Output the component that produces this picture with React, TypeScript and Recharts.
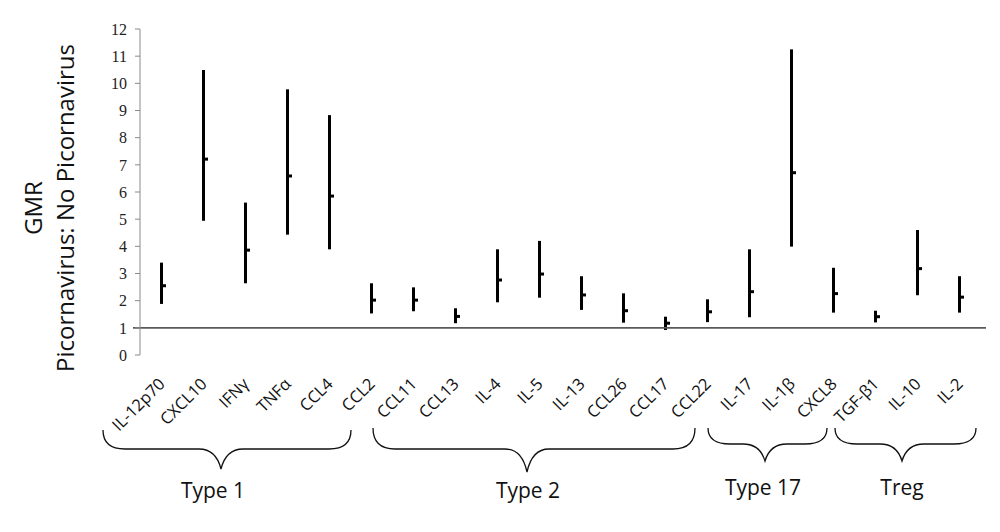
import { Bar, ComposedChart, ReferenceLine, Scatter, XAxis, YAxis } from "recharts";

// cytokines, in plotted order
const cytokines = [
  "IL-12p70", "CXCL10", "IFNγ", "TNFα", "CCL4",
  "CCL2", "CCL11", "CCL13", "IL-4", "IL-5", "IL-13", "CCL26", "CCL17", "CCL22",
  "IL-17", "IL-1β", "CXCL8",
  "TGF-β1", "IL-10", "IL-2",
];
// geometric mean ratio and its confidence interval
const gmr = [2.55, 7.21, 3.86, 6.59, 5.85, 2.02, 2.02, 1.42, 2.76, 2.98, 2.21, 1.63, 1.17, 1.59, 2.33, 6.71, 2.26, 1.41, 3.18, 2.13];
const ciLow = [1.88, 4.94, 2.64, 4.43, 3.89, 1.53, 1.61, 1.17, 1.94, 2.11, 1.66, 1.19, 0.92, 1.21, 1.39, 3.99, 1.56, 1.2, 2.2, 1.56];
const ciHigh = [3.4, 10.49, 5.61, 9.78, 8.83, 2.64, 2.49, 1.72, 3.89, 4.2, 2.9, 2.27, 1.41, 2.05, 3.89, 11.25, 3.21, 1.63, 4.6, 2.9];
const yTicks = [0, 1, 2, 3, 4, 5, 6, 7, 8, 9, 10, 11, 12];

const groups = ["Type 1", "Type 2", "Type 17", "Treg"];

const data = cytokines.map((name, i) => ({ name, gmr: gmr[i], range: [ciLow[i], ciHigh[i]] }));

// brace annotations (pixel layout)
const braces = [
  { left: 103, right: 351, tip: 221, top: 430, mid: 449, end: 469, tx: 213, ty: 498 },
  { left: 373, right: 695, tip: 527, top: 428, mid: 449, end: 472, tx: 528, ty: 498 },
  { left: 708, right: 827, tip: 765, top: 428, mid: 444, end: 461, tx: 763, ty: 495 },
  { left: 835, right: 976, tip: 902, top: 428, mid: 444, end: 461, tx: 902, ty: 495 },
];

const SANS = "'Open Sans', sans-serif";

function bracePath(b: (typeof braces)[number]) {
  const r = 22;
  const t = 10;
  return [
    `M${b.left},${b.top}`,
    `Q${b.left},${b.mid} ${b.left + r},${b.mid}`,
    `L${b.tip - r},${b.mid}`,
    `Q${b.tip - t / 2},${b.mid} ${b.tip},${b.end}`,
    `Q${b.tip + t / 2},${b.mid} ${b.tip + r},${b.mid}`,
    `L${b.right - r},${b.mid}`,
    `Q${b.right},${b.mid} ${b.right},${b.top}`,
  ].join(" ");
}

function CytokineTick(props: any) {
  const { x, y, payload } = props;
  return (
    <text
      transform={`translate(${x + 5},${y + 22}) rotate(-45)`}
      textAnchor="end"
      fontFamily={SANS}
      fontSize={16.5}
      fill="#111"
    >
      {payload.value}
    </text>
  );
}

function MidTick(props: any) {
  const { cx, cy } = props;
  return <rect x={cx} y={cy - 1.5} width={5} height={3} fill="#000" />;
}

function OneLine(props: any) {
  const { x1, y1, x2, y2 } = props;
  return <line x1={x1 - 7} y1={y1} x2={x2 + 6} y2={y2} stroke="#5a5a5a" strokeWidth={1.6} />;
}

export default function App() {
  return (
    <div style={{ position: "absolute", left: 0, top: 0, width: 1000, height: 532, background: "#fff" }}>
      <ComposedChart width={1000} height={532} data={data} margin={{ top: 29, right: 20, bottom: 0, left: 0 }}>
        <XAxis dataKey="name" axisLine={false} tickLine={false} interval={0} height={177} tick={<CytokineTick />} />
        <YAxis
          width={140}
          domain={[0, 12]}
          ticks={yTicks}
          interval={0}
          tickSize={5}
          tickMargin={8}
          axisLine={{ stroke: "#8a8a8a" }}
          tickLine={{ stroke: "#8a8a8a" }}
          tick={{ fontFamily: "'Liberation Serif', serif", fontSize: 16, fill: "#222" }}
        />
        <ReferenceLine y={1} shape={<OneLine />} />
        <Bar dataKey="range" fill="#000" barSize={3} isAnimationActive={false} />
        <Scatter dataKey="gmr" shape={<MidTick />} isAnimationActive={false} />
      </ComposedChart>
      <svg width={1000} height={532} style={{ position: "absolute", left: 0, top: 0, pointerEvents: "none" }}>
        <text transform="translate(42,208) rotate(-90)" textAnchor="middle" fontFamily={SANS} fontSize={24} fill="#111">
          GMR
        </text>
        <text transform="translate(74,208) rotate(-90)" textAnchor="middle" fontFamily={SANS} fontSize={24} fill="#111">
          Picornavirus: No Picornavirus
        </text>
        {braces.map((b, i) => (
          <g key={groups[i]}>
            <path d={bracePath(b)} fill="none" stroke="#111" strokeWidth={1.3} />
            <text x={b.tx} y={b.ty} textAnchor="middle" fontFamily={SANS} fontSize={21} fill="#111">
              {groups[i]}
            </text>
          </g>
        ))}
      </svg>
    </div>
  );
}
